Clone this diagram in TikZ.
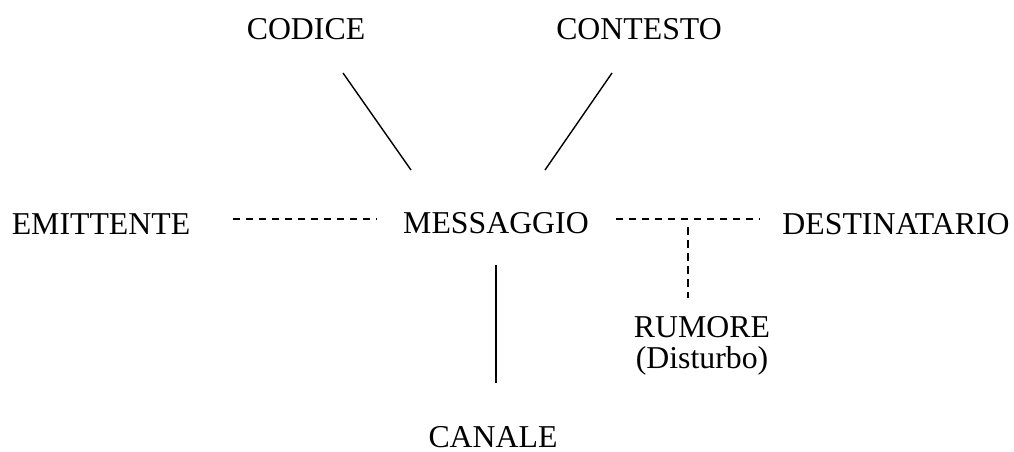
\documentclass[tikz,border=0pt]{standalone}
\usepackage{fontspec}
\setmainfont{Liberation Serif}
\begin{document}
\begin{tikzpicture}[x=1pt,y=-1pt,
  lbl/.style={inner sep=0pt,anchor=base,font=\fontsize{31.8}{33}\selectfont},
  solidline/.style={line width=1.4pt},
  dashline/.style={line width=1.2pt,dash pattern=on 7pt off 6pt}]
\useasboundingbox (0,0) rectangle (1014,452);
\node[lbl] (codice) at (306,40) {CODICE};
\node[lbl] (contesto) at (639,40) {CONTESTO};
\node[lbl] (emit) at (101,234) {EMITTENTE};
\node[lbl] (msg) at (496,233) {MESSAGGIO};
\node[lbl] (dest) at (896,234) {DESTINATARIO};
\node[lbl] (rumore) at (702,337) {RUMORE};
\node[lbl] (disturbo) at (702,368) {(Disturbo)};
\node[lbl,text depth=0pt] (canale) at (493,447) {CANALE};
% connector ends
\coordinate (c1) at (343,73);
\coordinate (c2) at (411,170);
\coordinate (k1) at (612,73);
\coordinate (k2) at (545,170);
\coordinate (e1) at (233,219);
\coordinate (e2) at (377,219);
\coordinate (d1) at (616,219);
\coordinate (d2) at (760,219);
\coordinate (r1) at (688,227);
\coordinate (r2) at (688,298);
\coordinate (n1) at (496,265);
\coordinate (n2) at (496,383);
\draw[solidline] (c1) -- (c2);
\draw[solidline] (k1) -- (k2);
\draw[solidline] (n1) -- (n2);
\draw[dashline] (e1) -- (e2);
\draw[dashline] (d1) -- (d2);
\draw[dashline,dash pattern=on 8pt off 5pt] (r1) -- (r2);
\end{tikzpicture}
\end{document}
